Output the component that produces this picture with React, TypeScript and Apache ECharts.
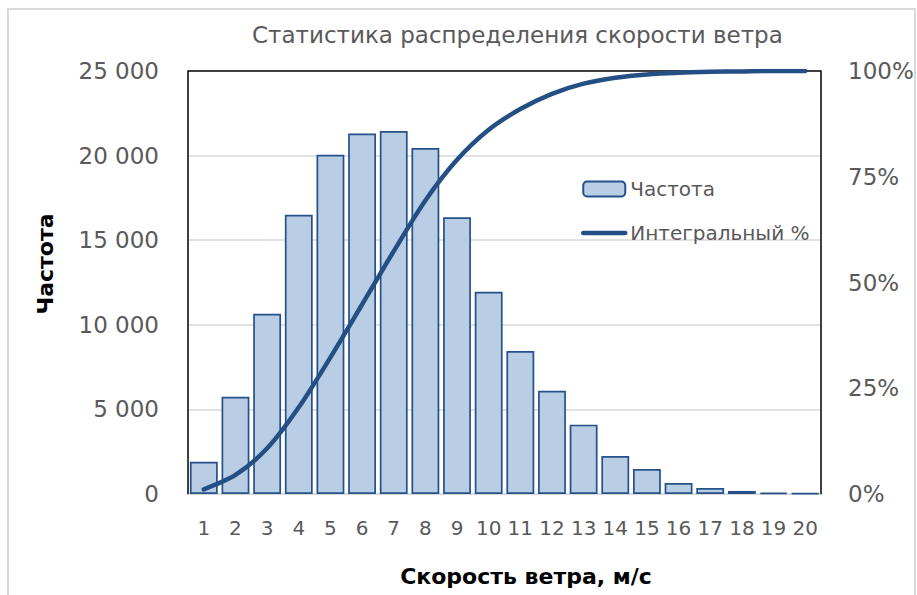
import React, { useEffect, useRef } from "react";
import * as echarts from "echarts";

const categories = ["1","2","3","4","5","6","7","8","9","10","11","12","13","14","15","16","17","18","19","20"];
const frequency = [1900, 5750, 10650, 16500, 20050, 21300, 21450, 20450, 16350, 11950, 8450, 6100, 4100, 2250, 1480, 650, 355, 180, 80, 40];
const cumulativePct = [1.1, 4.5, 10.8, 20.5, 32.3, 44.8, 57.4, 69.4, 79.0, 86.1, 91.0, 94.6, 97.0, 98.4, 99.2, 99.6, 99.8, 99.9, 100, 100];

const FONT = "'DejaVu Sans', 'Open Sans', sans-serif";
const GRAY = "#595959";

export default function App() {
  const ref = useRef<HTMLDivElement>(null);
  useEffect(() => {
    if (!ref.current) return;
    const chart = echarts.init(ref.current, undefined, { renderer: "svg" });
    chart.setOption({
      animation: false,
      backgroundColor: "#fff",
      textStyle: { fontFamily: FONT },
      title: {
        text: "Статистика распределения скорости ветра",
        left: 247,
        top: 18,
        textStyle: { fontFamily: FONT, fontSize: 23, fontWeight: "normal", color: GRAY },
      },
      graphic: [
        {
          type: "rect",
          shape: { x: 8, y: 9, width: 907, height: 620 },
          style: { fill: "none", stroke: "#D9D9D9", lineWidth: 2 },
          silent: true,
        },
        {
          type: "text",
          x: 45,
          y: 264,
          rotation: Math.PI / 2,
          style: {
            text: "Частота",
            fontFamily: FONT,
            fontSize: 22,
            fontWeight: "bold",
            fill: "#000",
            align: "center",
            verticalAlign: "middle",
          },
        },
        {
          type: "text",
          x: 526,
          y: 576,
          style: {
            text: "Скорость ветра, м/с",
            fontFamily: FONT,
            fontSize: 22,
            fontWeight: "bold",
            fill: "#000",
            align: "center",
            verticalAlign: "middle",
          },
        },
      ],
      legend: {
        orient: "vertical",
        left: 576,
        top: 174,
        itemWidth: 42,
        itemHeight: 15,
        itemGap: 24,
        textStyle: { fontFamily: FONT, fontSize: 20, color: GRAY },
        data: [
          { name: "Частота" },
          { name: "Интегральный %", itemStyle: { opacity: 0 }, lineStyle: { width: 4.5, color: "#244F85" } },
        ],
      },
      grid: { left: 188, right: 96, top: 71, bottom: 101 },
      xAxis: {
        type: "category",
        data: categories,
        axisLine: { show: true, lineStyle: { color: "#D9D9D9", width: 1 } },
        axisTick: { show: false },
        axisLabel: { fontFamily: FONT, fontSize: 20, color: GRAY, margin: 24, interval: 0 },
      },
      yAxis: [
        {
          type: "value",
          min: 0,
          max: 25000,
          interval: 5000,
          axisLine: { show: true, lineStyle: { color: "#000", width: 1.5 } },
          axisTick: { show: false },
          axisLabel: {
            fontFamily: FONT,
            fontSize: 23,
            color: GRAY,
            margin: 29,
            formatter: (v: number) => (v >= 1000 ? Math.floor(v / 1000) + " " + String(v % 1000).padStart(3, "0") : String(v)),
          },
          splitLine: {
            show: true,
            lineStyle: { color: ["#D9D9D9", "#D9D9D9", "#D9D9D9", "#D9D9D9", "#D9D9D9", "#000"], width: 1.5 },
          },
        },
        {
          type: "value",
          min: 0,
          max: 100,
          interval: 25,
          position: "right",
          axisLine: { show: true, lineStyle: { color: "#000", width: 1.5 } },
          axisTick: { show: false },
          axisLabel: { fontFamily: FONT, fontSize: 23, color: GRAY, margin: 27, formatter: "{value}%" },
          splitLine: { show: false },
        },
      ],
      series: [
        {
          name: "Частота",
          type: "bar",
          data: frequency,
          barCategoryGap: "12%",
          itemStyle: { color: "#B9CDE5", borderColor: "#24518A", borderWidth: 1.7 },
        },
        {
          name: "Интегральный %",
          type: "line",
          yAxisIndex: 1,
          data: cumulativePct,
          smooth: 0.3,
          symbol: "none",
          lineStyle: { color: "#244F85", width: 4.5, cap: "round" },
          itemStyle: { color: "#244F85" },
        },
      ],
    });
    return () => chart.dispose();
  }, []);
  return <div ref={ref} style={{ position: "absolute", left: 0, top: 0, width: 917, height: 595 }} />;
}
